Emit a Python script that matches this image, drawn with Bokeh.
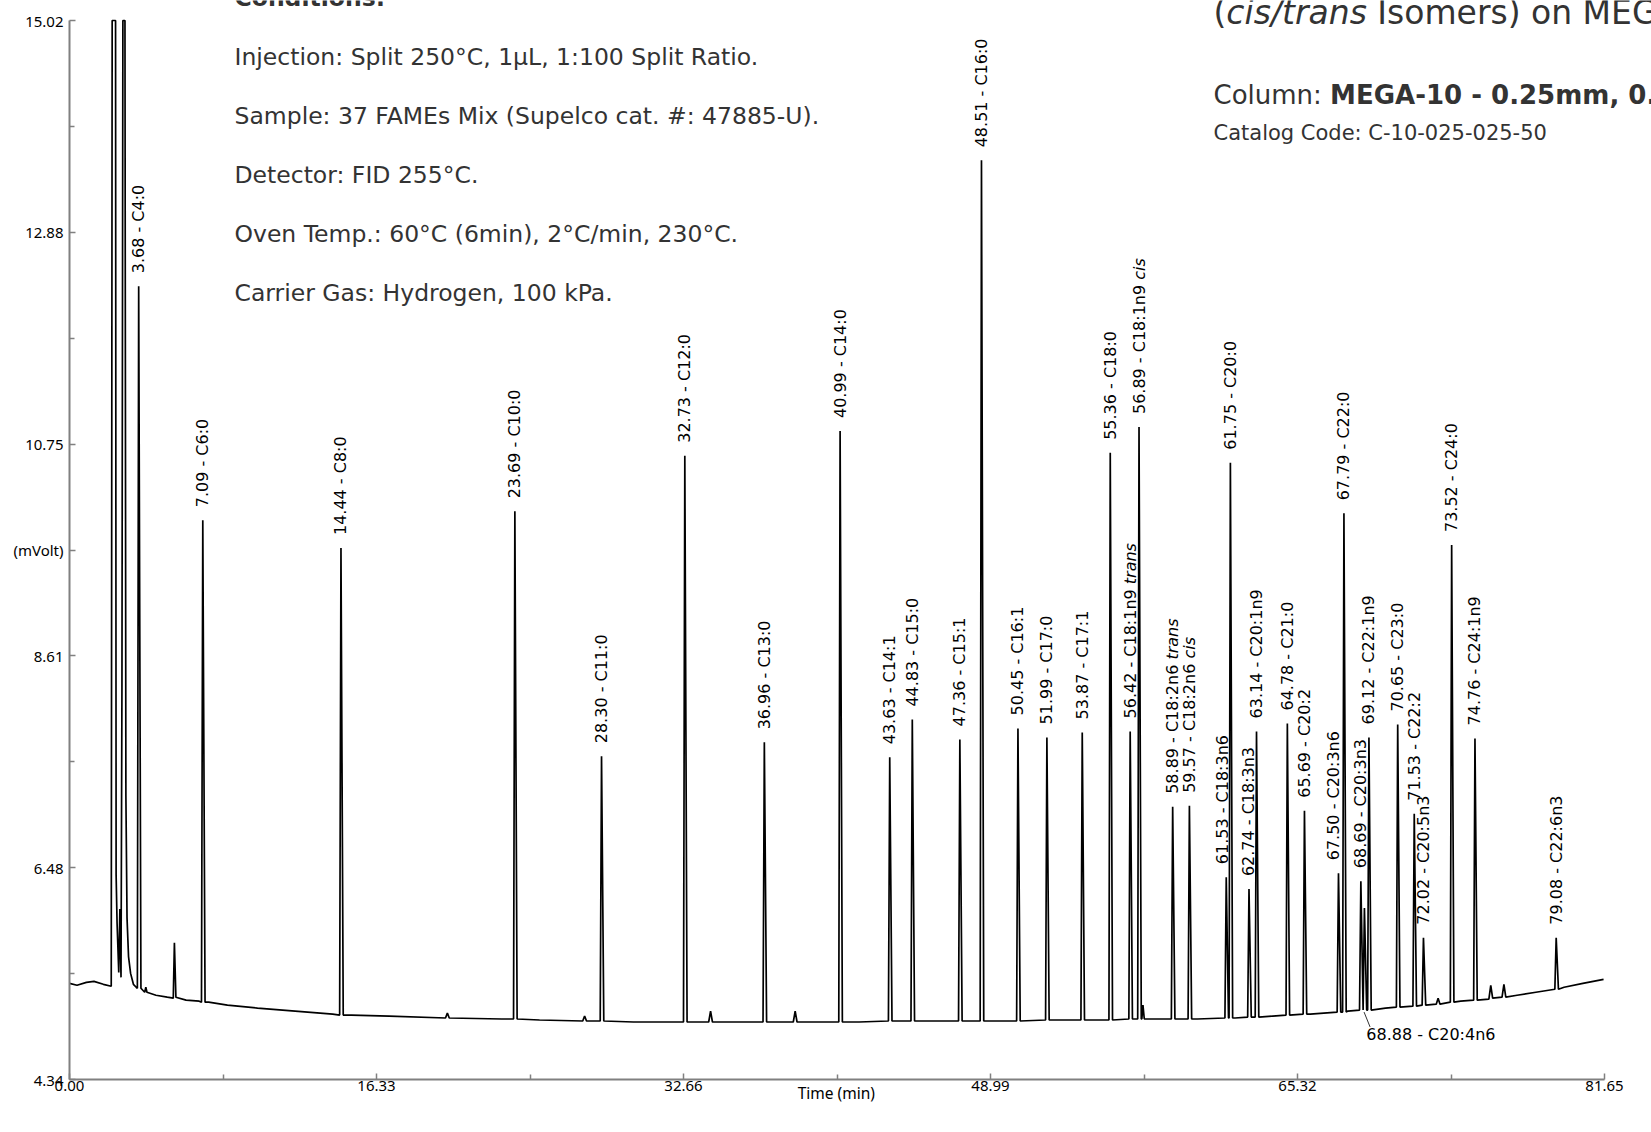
import numpy as np
from bokeh.plotting import figure
from bokeh.models import FixedTicker, Label
from bokeh.core.properties import value
from bokeh.embed import file_html
from bokeh.resources import INLINE

# ---------------- DATA ----------------
# where each labelled peak is drawn (min) and its label
peak_times = [3.68, 7.09, 14.44, 23.69, 28.30, 32.73, 36.96, 40.99, 43.63, 44.83,
              47.36, 48.51, 50.45, 51.99, 53.87, 55.36, 56.42, 56.89, 58.68, 59.57,
              61.53, 61.75, 62.74, 63.14, 64.78, 65.69, 67.50, 67.79, 68.69, 68.88,
              69.12, 70.65, 71.53, 72.02, 73.52, 74.76, 79.08]
peak_labels = ["3.68 - C4:0", "7.09 - C6:0", "14.44 - C8:0", "23.69 - C10:0", "28.30 - C11:0",
               "32.73 - C12:0", "36.96 - C13:0", "40.99 - C14:0", "43.63 - C14:1", "44.83 - C15:0",
               "47.36 - C15:1", "48.51 - C16:0", "50.45 - C16:1", "51.99 - C17:0", "53.87 - C17:1",
               "55.36 - C18:0", "56.42 - C18:1n9", "56.89 - C18:1n9", "58.89 - C18:2n6", "59.57 - C18:2n6",
               "61.53 - C18:3n6", "61.75 - C20:0", "62.74 - C18:3n3", "63.14 - C20:1n9", "64.78 - C21:0",
               "65.69 - C20:2", "67.50 - C20:3n6", "67.79 - C22:0", "68.69 - C20:3n3", "68.88 - C20:4n6",
               "69.12 - C22:1n9", "70.65 - C23:0", "71.53 - C22:2", "72.02 - C20:5n3", "73.52 - C24:0",
               "74.76 - C24:1n9", "79.08 - C22:6n3"]
peak_isomer = ["", "", "", "", "", "", "", "", "", "",
               "", "", "", "", "", "", "trans", "cis", "trans", "cis",
               "", "", "", "", "", "", "", "", "", "",
               "", "", "", "", "", "", ""]
peak_heights = [12.34, 9.98, 9.70, 10.07, 7.60, 10.63, 7.74, 10.88, 7.59, 7.97,
                7.77, 13.61, 7.88, 7.79, 7.84, 10.66, 7.85, 10.92, 7.09, 7.10,
                6.38, 10.56, 6.26, 7.85, 7.93, 7.05, 6.42, 10.05, 6.34, 6.07,
                7.79, 7.92, 7.02, 5.77, 9.73, 7.78, 5.77]
peak_bases = [5.26, 5.12, 4.99, 4.95, 4.93, 4.92, 4.92, 4.92, 4.93, 4.93,
              4.93, 4.93, 4.93, 4.94, 4.94, 4.94, 4.95, 4.95, 4.95, 4.95,
              4.96, 4.96, 4.97, 4.97, 4.99, 5.00, 5.02, 5.02, 5.04, 5.04,
              5.04, 5.07, 5.08, 5.09, 5.12, 5.14, 5.25]

# trace between the labelled peaks (baseline, off-scale solvent front, small bumps)
base_times = [0.00, 0.40, 0.90, 1.30, 1.80, 2.22, 2.27, 2.45, 2.48, 2.53,
              2.62, 2.68, 2.74, 2.79, 2.84, 2.95, 3.00, 3.06, 3.14, 3.25,
              3.40, 3.55, 3.90, 4.00, 4.06, 4.12, 4.60, 5.20, 5.52, 5.58,
              5.66, 6.20, 6.90, 7.40, 8.40, 10.0, 12.0, 14.0, 15.0, 17.0,
              20.0, 20.1, 20.2, 23.0, 25.0, 27.3, 27.4, 27.5, 30.0, 34.0,
              34.1, 34.2, 38.5, 38.6, 38.7, 42.0, 46.0, 50.0, 54.0, 57.04,
              57.10, 57.17, 60.0, 62.0, 64.0, 66.0, 68.0, 70.0, 72.7, 72.8,
              72.9, 74.0, 75.5, 75.6, 75.7, 76.2, 76.3, 76.4, 77.0, 78.0,
              79.5, 80.5, 81.6]
base_values = [5.31, 5.29, 5.32, 5.33, 5.30, 5.28, 15.02, 15.02, 6.40, 5.92,
               5.42, 6.06, 5.37, 8.30, 15.02, 15.02, 7.20, 5.97, 5.58, 5.41,
               5.30, 5.27, 5.24, 5.22, 5.27, 5.22, 5.19, 5.17, 5.16, 5.72,
               5.17, 5.14, 5.13, 5.12, 5.09, 5.06, 5.03, 5.00, 4.99, 4.98,
               4.96, 5.01, 4.96, 4.95, 4.94, 4.93, 4.98, 4.93, 4.92, 4.92,
               5.03, 4.92, 4.92, 5.03, 4.92, 4.92, 4.93, 4.93, 4.94, 4.95,
               5.09, 4.95, 4.95, 4.96, 4.98, 5.00, 5.03, 5.06, 5.10, 5.16,
               5.10, 5.13, 5.15, 5.29, 5.16, 5.17, 5.30, 5.17, 5.19, 5.22,
               5.27, 5.31, 5.35]

x_ticks = [0.0, 16.33, 32.66, 48.99, 65.32, 81.65]
x_tick_labels = ["0.00", "16.33", "32.66", "48.99", "65.32", "81.65"]
x_minor_ticks = [8.165, 24.495, 40.825, 57.155, 73.485]
y_ticks = [4.34, 6.476, 8.612, 9.68, 10.748, 12.884, 15.02]
y_tick_labels = ["4.34", "6.48", "8.61", "(mVolt)", "10.75", "12.88", "15.02"]
y_minor_ticks = [5.408, 7.544, 11.816, 13.952]

conditions_title = "Conditions:"
conditions = ["Injection: Split 250°C, 1µL, 1:100 Split Ratio.",
              "Sample: 37 FAMEs Mix (Supelco cat. #: 47885-U).",
              "Detector: FID 255°C.",
              "Oven Temp.: 60°C (6min), 2°C/min, 230°C.",
              "Carrier Gas: Hydrogen, 100 kPa."]
title_parts = ["(", "cis/trans", " Isomers) on MEGA-10"]
column_parts = ["Column: ", "MEGA-10 - 0.25mm, 0.25µm, 50m"]
catalog_text = "Catalog Code: C-10-025-025-50"
x_label = "Time (min)"

# ---------------- LAYOUT (pixel geometry of the page) ----------------
W, H = 1651, 1128
AX_LEFT, AX_RIGHT = 69, 1604      # x of 0.00 and 81.65
AX_TOP, AX_BOTTOM = 20, 1079      # y of 15.02 and 4.34
XA0, XA1 = x_ticks[0], x_ticks[-1]
YA0, YA1 = y_ticks[0], y_ticks[-1]
PPX = (AX_RIGHT - AX_LEFT) / (XA1 - XA0)
PPY = (AX_BOTTOM - AX_TOP) / (YA1 - YA0)
# the frame reaches the canvas top and right edge so the texts there are not clipped
x_end = XA0 + (W - AX_LEFT) / PPX
y_end = YA0 + AX_BOTTOM / PPY


def xd(px):
    return XA0 + (px - AX_LEFT) / PPX


def yd(py):
    return YA1 - (py - AX_TOP) / PPY


# DejaVu Sans advance widths (1/2048 em)
DV = {' ': 651, '(': 799, ')': 799, '-': 739, '.': 651, '/': 690, ':': 690,
      'C': 1430, 'n': 1298, 'c': 1126, 'i': 569, 's': 1067, 't': 803, 'r': 842,
      'a': 1255, 'o': 1253, 'l': 569, 'u': 1298, 'm': 1995}
for d in "0123456789":
    DV[d] = 1303


def text_w(s, size):
    return sum(DV.get(ch, 1200) for ch in s) / 2048.0 * size


p = figure(width=W, height=H, x_range=(XA0, x_end), y_range=(YA0, y_end),
           output_backend="svg", toolbar_location=None,
           min_border_left=AX_LEFT, min_border_right=0, min_border_top=0,
           min_border_bottom=H - AX_BOTTOM)
p.outline_line_color = None
p.grid.visible = False
p.background_fill_color = "white"

AX = "#808080"
for ax in (p.xaxis[0], p.yaxis[0]):
    ax.axis_line_color = AX
    ax.axis_line_width = 2
    ax.major_tick_line_color = AX
    ax.minor_tick_line_color = AX
    ax.major_tick_line_width = 1.5
    ax.minor_tick_line_width = 1.5
    ax.major_tick_in = 6
    ax.major_tick_out = 0
    ax.minor_tick_in = 5
    ax.minor_tick_out = 0
    ax.major_label_text_font = "Noto Sans"
    ax.major_label_text_font_size = "15px"
    ax.major_label_text_color = "black"

p.xaxis.bounds = (XA0, XA1)
p.xaxis.ticker = FixedTicker(ticks=x_ticks, minor_ticks=x_minor_ticks)
p.xaxis.major_label_overrides = dict(zip(x_ticks, x_tick_labels))
p.xaxis.major_label_text_align = "left"
p.xaxis.major_label_standoff = 1
# the axis label is centred on the (wider) frame: pad it so it sits under the axis centre
pad = int(round(((W + AX_LEFT) / 2 - (AX_LEFT + AX_RIGHT) / 2) * 2 / (0.26 * 15.5)))
p.xaxis.axis_label = x_label + "\u00a0" * pad
p.xaxis.axis_label_text_font = "Noto Sans"
p.xaxis.axis_label_text_font_size = "15.5px"
p.xaxis.axis_label_text_font_style = "normal"
p.xaxis.axis_label_text_color = "black"
p.xaxis.axis_label_standoff = -12

p.yaxis.bounds = (YA0, YA1)
p.yaxis.ticker = FixedTicker(ticks=y_ticks, minor_ticks=y_minor_ticks)
p.yaxis.major_label_overrides = dict(zip(y_ticks, y_tick_labels))
p.yaxis.major_label_standoff = 6

# ---------------- TRACE ----------------
LW, RW = 0.07, 0.12
pts = []
for t, v in zip(base_times, base_values):
    if any(pt - LW - 0.005 <= t <= pt + RW + 0.005 for pt in peak_times):
        continue
    pts.append((t, v))
for t, h, b in zip(peak_times, peak_heights, peak_bases):
    pts += [(t - LW, b), (t, h), (t + RW, b)]
pts.sort(key=lambda q: q[0])
p.line([q[0] for q in pts], [q[1] for q in pts], line_color="black", line_width=1.7)

# ---------------- PEAK LABELS ----------------
LABEL_GAP = 13  # px above apex
FS = 16
below_label = "68.88 - C20:4n6"
nudge_px = {"61.53 - C18:3n6": -4, "67.50 - C20:3n6": -5}
lx, ly, lt = [], [], []
ix, iy, it = [], [], []
for t, lab, iso, h in zip(peak_times, peak_labels, peak_isomer, peak_heights):
    if lab == below_label:
        continue
    x = t + nudge_px.get(lab, 0) / PPX
    y = h + LABEL_GAP / PPY
    lx.append(x); ly.append(y); lt.append(lab)
    if iso:
        ix.append(x); iy.append(y + text_w(lab + " ", FS) / PPY); it.append(iso)

p.text(x=lx, y=ly, text=lt, angle=np.pi / 2, text_align="left", text_baseline="middle",
       text_font=value("DejaVu Sans"), text_font_size=f"{FS}px", text_color="black")
p.text(x=ix, y=iy, text=it, angle=np.pi / 2, text_align="left", text_baseline="middle",
       text_font=value("DejaVu Sans"), text_font_size=f"{FS}px", text_font_style="italic",
       text_color="black")

# C20:4n6 label below the trace with a leader line
p.line([68.86, 69.18], [5.02, 4.87], line_color="#333333", line_width=1)
p.add_layout(Label(x=68.98, y=4.79, text=below_label, text_align="left",
                   text_baseline="middle", text_font="DejaVu Sans",
                   text_font_size=f"{FS}px", text_color="black"))

# ---------------- TEXT BLOCKS ----------------
TXT = "#333333"
cx = xd(234)
CF = "23.5px"
p.add_layout(Label(x=cx, y=yd(-3), text=conditions_title, text_font="DejaVu Sans",
                   text_font_size=CF, text_font_style="bold", text_color=TXT,
                   text_baseline="middle", text_align="left"))
for i, line in enumerate(conditions):
    p.add_layout(Label(x=cx, y=yd(56 + 59 * i), text=line, text_font="DejaVu Sans",
                       text_font_size=CF, text_color=TXT,
                       text_baseline="middle", text_align="left"))

rx = 1213
TS = 33
off = 0.0
for k, part in enumerate(title_parts):
    lead = len(part) - len(part.lstrip(" "))
    off += text_w(" " * lead, TS)
    p.add_layout(Label(x=xd(rx + off), y=yd(12), text=part.lstrip(" "), text_font="DejaVu Sans",
                       text_font_size=f"{TS}px", text_color=TXT,
                       text_font_style="italic" if k == 1 else "normal",
                       text_baseline="alphabetic", text_align="left"))
    off += text_w(part.lstrip(" "), TS)

CS = 26
p.add_layout(Label(x=xd(rx), y=yd(94), text=column_parts[0].strip(), text_font="DejaVu Sans",
                   text_font_size=f"{CS}px", text_color=TXT,
                   text_baseline="alphabetic", text_align="left"))
p.add_layout(Label(x=xd(rx + text_w(column_parts[0], CS)), y=yd(94), text=column_parts[1],
                   text_font="DejaVu Sans", text_font_size=f"{CS}px", text_color=TXT,
                   text_font_style="bold", text_baseline="alphabetic", text_align="left"))
p.add_layout(Label(x=xd(rx), y=yd(132), text=catalog_text, text_font="DejaVu Sans",
                   text_font_size="21px", text_color=TXT,
                   text_baseline="alphabetic", text_align="left"))

open("out.html", "w").write(file_html(p, INLINE))
